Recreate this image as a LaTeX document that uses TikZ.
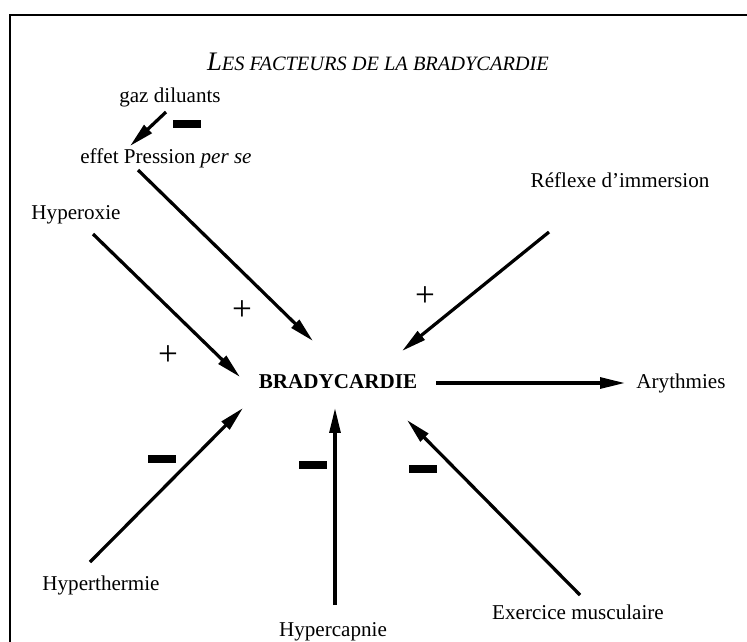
\documentclass[tikz,border=0pt]{standalone}
\usepackage{fontspec}
\setmainfont{Liberation Serif}
\usetikzlibrary{arrows.meta}

\begin{document}
\begin{tikzpicture}[
      x=0.025cm, y=-0.025cm,
      lbl/.style={inner sep=1pt, font=\fontsize{15}{18}\selectfont},
      arr/.style={-{Triangle[length=0.62cm, width=0.27cm]}, line width=2.3pt},
      minusbar/.style={fill=black, inner sep=0pt, minimum width=0.72cm, minimum height=0.18cm},
      plussign/.style={inner sep=0pt, font=\fontsize{25}{25}\selectfont}
    ]
      \useasboundingbox (0,0) rectangle (747,641);
      \clip (0,0) rectangle (747,641);

      % Frame
      \draw[line width=1.4pt] (10,700) -- (10,15) -- (800,15);

      % Title
      \node[inner sep=0pt] (title) at (378,62) {\itshape\fontsize{19}{22}\selectfont L\fontsize{14.5}{17}\selectfont ES FACTEURS DE LA BRADYCARDIE};

      % Factors
      \node[lbl] (gaz) at (170,97) {gaz diluants};
      \node[lbl] (effet) at (166,158) {effet Pression \textit{per se}};
      \node[lbl] (hyperox) at (76,215) {Hyperoxie};
      \node[lbl] (reflexe) at (620,180) {Réflexe d'immersion};
      \node[lbl] (hypertherm) at (101,585) {Hyperthermie};
      \node[lbl] (hypercap) at (333,632) {Hypercapnie};
      \node[lbl] (exercice) at (578,612) {Exercice musculaire};

      % Centre and consequence
      \node[lbl, font=\fontsize{15}{18}\selectfont\bfseries] (brady) at (338,382) {BRADYCARDIE};
      \node[lbl] (aryth) at (681,383) {Arythmies};

      % Signs
      \node[minusbar] (m1) at (187,124) {};
      \node[plussign] (p1) at (242,311) {+};
      \node[plussign] (p2) at (168,356) {+};
      \node[plussign] (p3) at (425,297) {+};
      \node[minusbar] (m2) at (162,459) {};
      \node[minusbar] (m3) at (313,465) {};
      \node[minusbar] (m4) at (423,469) {};

      % Arrows
      \draw[arr] ([shift={(-4,15)}]gaz.center) -- ([shift={(-36,-12)}]effet.center);
      \draw[arr] ([shift={(-28,12)}]effet.center) -- ([shift={(-25,-41)}]brady.center);
      \draw[arr] ([shift={(17,19)}]hyperox.center) -- ([shift={(-98,-5)}]brady.center);
      \draw[arr] ([shift={(-71,52)}]reflexe.center) -- ([shift={(64,-31)}]brady.center);
      \draw[arr] ([shift={(98,1)}]brady.center) -- ([shift={(-56,0)}]aryth.center);
      \draw[arr] ([shift={(-11,-23)}]hypertherm.center) -- ([shift={(-95,26)}]brady.center);
      \draw[arr] ([shift={(2,-27)}]hypercap.center) -- ([shift={(-3,26)}]brady.center);
      \draw[arr] ([shift={(2,-17)}]exercice.center) -- ([shift={(69,38)}]brady.center);
    \end{tikzpicture}
\end{document}
